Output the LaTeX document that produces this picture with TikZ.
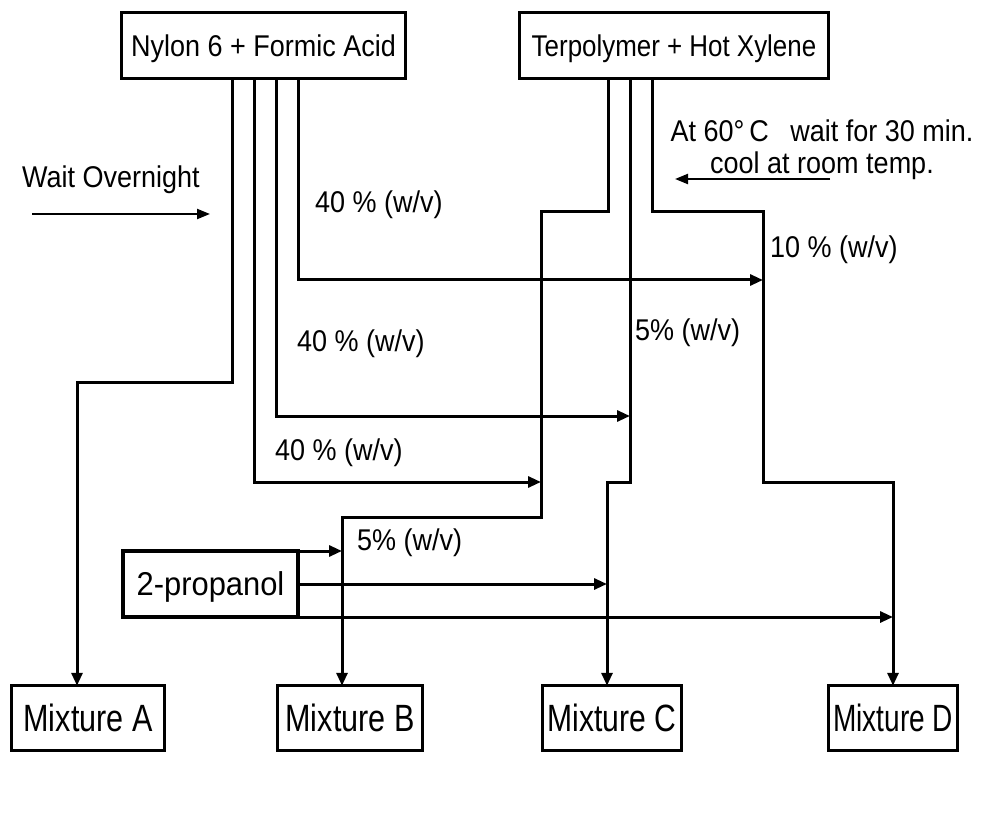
\documentclass[tikz,border=0pt]{standalone}
\usepackage{fontspec}
\setmainfont{Liberation Sans}[FakeStretch=0.9]
\usepackage{graphicx}
\usetikzlibrary{arrows.meta}
\begin{document}
\begin{tikzpicture}[x=1pt,y=-1pt,
  box/.style={draw,line width=3.3pt,inner sep=0pt,outer sep=0pt,text depth=0pt},
  flow/.style={line width=3pt},
  arr/.style={flow,-{Triangle[length=13pt,width=11pt]}},
  thinarr/.style={line width=2.2pt,-{Triangle[length=13pt,width=10pt]}},
  lbl/.style={inner sep=0pt,anchor=base west,font=\fontsize{30}{32}\selectfont},
  fA/.style={font=\fontsize{30}{32}\selectfont,text height=21.5pt},
  fP/.style={font=\fontsize{33}{36}\selectfont,text height=23.6pt},
  fM/.style={font=\fontsize{38}{42}\selectfont,text height=27.2pt}]
\useasboundingbox[fill=white] (0,0) rectangle (983,829);

% boxes
\node[box,fA,minimum width=284pt,minimum height=66pt] (nylon) at (263.5,45.5) {Nylon 6 + Formic Acid};
\node[box,fA,minimum width=309pt,minimum height=66pt] (terp) at (674,45.5) {\scalebox{0.96}[1]{Terpolymer + Hot Xylene}};
\node[box,fP,minimum width=175pt,minimum height=66pt] (prop) at (210.5,584) {\scalebox{1.04}[1]{2-propanol}};
\node[box,fM,minimum width=153.5pt,minimum height=64.5pt] (mixA) at (88,718) {\scalebox{0.893}[1]{Mixture A}};
\node[box,fM,minimum width=145.5pt,minimum height=64.5pt] (mixB) at (350,718) {\scalebox{0.893}[1]{Mixture B}};
\node[box,fM,minimum width=138.5pt,minimum height=64.5pt] (mixC) at (612,718) {\scalebox{0.88}[1]{Mixture C}};
\node[box,fM,minimum width=128.5pt,minimum height=64.5pt] (mixD) at (893,718) {\scalebox{0.82}[1]{Mixture D}};

% labels
\node[lbl] (wait) at (22,188) {Wait Overnight};
\node[lbl] (p40a) at (315,213) {40 \% (w/v)};
\node[lbl] (p40b) at (297,351) {40 \% (w/v)};
\node[lbl] (p40c) at (275,460) {40 \% (w/v)};
\node[lbl] (p10) at (770,258) {10 \% (w/v)};
\node[lbl] (p5a) at (635,340) {5\% (w/v)};
\node[lbl] (p5b) at (357,550) {5\% (w/v)};
\node[inner sep=0pt,anchor=north,align=center,font=\fontsize{30}{32}\selectfont] (cond) at (822,120)
  {At 60°\,C\hspace{14pt} wait for 30 min.\\ cool at room temp.};

% side arrows
\coordinate (waitS) at (32,214);
\coordinate (waitE) at (210,214);
\draw[thinarr] (waitS) -- (waitE);
\coordinate (coolS) at (830,179);
\coordinate (coolE) at (675,179);
\draw[thinarr] (coolS) -- (coolE);

% Nylon 6 branches
\draw[arr] (nylon.south -| 232,0) -- (232,382) -- (77,382) -- (mixA.north -| 77,0);
\draw[arr] (nylon.south -| 254,0) -- (254,482) -- (541,482);
\draw[arr] (nylon.south -| 276,0) -- (276,416) -- (630,416);
\draw[arr] (nylon.south -| 298,0) -- (298,280) -- (763,280);

% Terpolymer branches
\draw[arr] (terp.south -| 608,0) -- (608,212) -- (541,212) -- (541,517) -- (342,517) -- (mixB.north -| 342,0);
\draw[arr] (terp.south -| 630,0) -- (630,482) -- (607,482) -- (mixC.north -| 607,0);
\draw[arr] (terp.south -| 652,0) -- (652,212) -- (763,212) -- (763,482) -- (893,482) -- (mixD.north -| 893,0);

% 2-propanol branches
\draw[arr] (prop.north east) -- (prop.north east -| 342,0);
\draw[arr] (prop.east) -- (prop.east -| 607,0);
\draw[arr] (prop.south east) -- (prop.south east -| 893,0);
\end{tikzpicture}
\end{document}
